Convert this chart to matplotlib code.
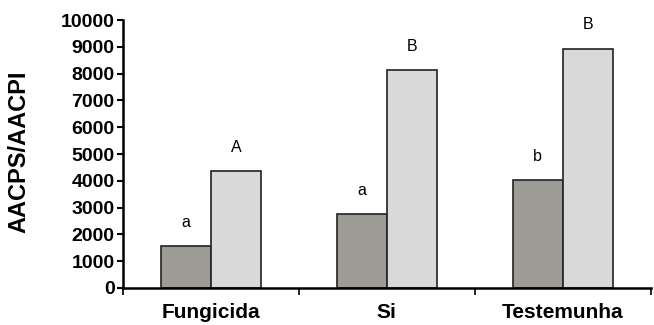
import numpy as np
import matplotlib.pyplot as plt
from matplotlib.ticker import FixedLocator

categories = ["Fungicida", "Si", "Testemunha"]
aacps = [1570, 2760, 4020]
aacpi = [4360, 8140, 8940]
letters_aacps = ["a", "a", "b"]
letters_aacpi = ["A", "B", "B"]

plt.rcParams['font.family'] = ['Liberation Sans', 'DejaVu Sans']

fig = plt.figure(figsize=(6.54, 3.25), dpi=100)
ax = fig.add_axes([0.188, 0.114, 0.807, 0.824])

x = np.arange(len(categories))
w = 0.285

ax.bar(x - w / 2, aacps, w, color='#9c9b96', edgecolor='#222222', linewidth=1.2)
ax.bar(x + w / 2, aacpi, w, color='#d9d9d9', edgecolor='#222222', linewidth=1.2)

# letras de significancia acima das barras
for i in range(len(categories)):
    ax.text(x[i] - w / 2, aacps[i] + 600, letters_aacps[i], ha='center', va='bottom', fontsize=11.5)
    ax.text(x[i] + w / 2, aacpi[i] + 600, letters_aacpi[i], ha='center', va='bottom', fontsize=11.5)

ax.set_xlim(-0.5, 2.5)
ax.set_ylim(0, 10000)
ax.set_yticks(np.arange(0, 10001, 1000))
ax.set_xticks(x)
ax.set_xticklabels(categories, fontsize=15, fontweight='bold')
ax.xaxis.set_minor_locator(FixedLocator([-0.5, 0.5, 1.5, 2.5]))
ax.tick_params(axis='x', which='major', length=0, pad=11)
ax.tick_params(axis='x', which='minor', length=5, width=1.2, direction='out')
ax.tick_params(axis='y', length=4, width=1.5, direction='out', pad=2)
for lbl in ax.get_yticklabels():
    lbl.set_fontweight('bold')
    lbl.set_fontsize(14)

ax.set_ylabel("AACPS/AACPI", fontsize=17, fontweight='bold')
ax.yaxis.set_label_coords(-0.175, 0.51)

for s in ['top', 'right']:
    ax.spines[s].set_visible(False)
ax.spines['left'].set_linewidth(1.8)
ax.spines['bottom'].set_linewidth(1.8)

fig.savefig('out.png', dpi=100)
